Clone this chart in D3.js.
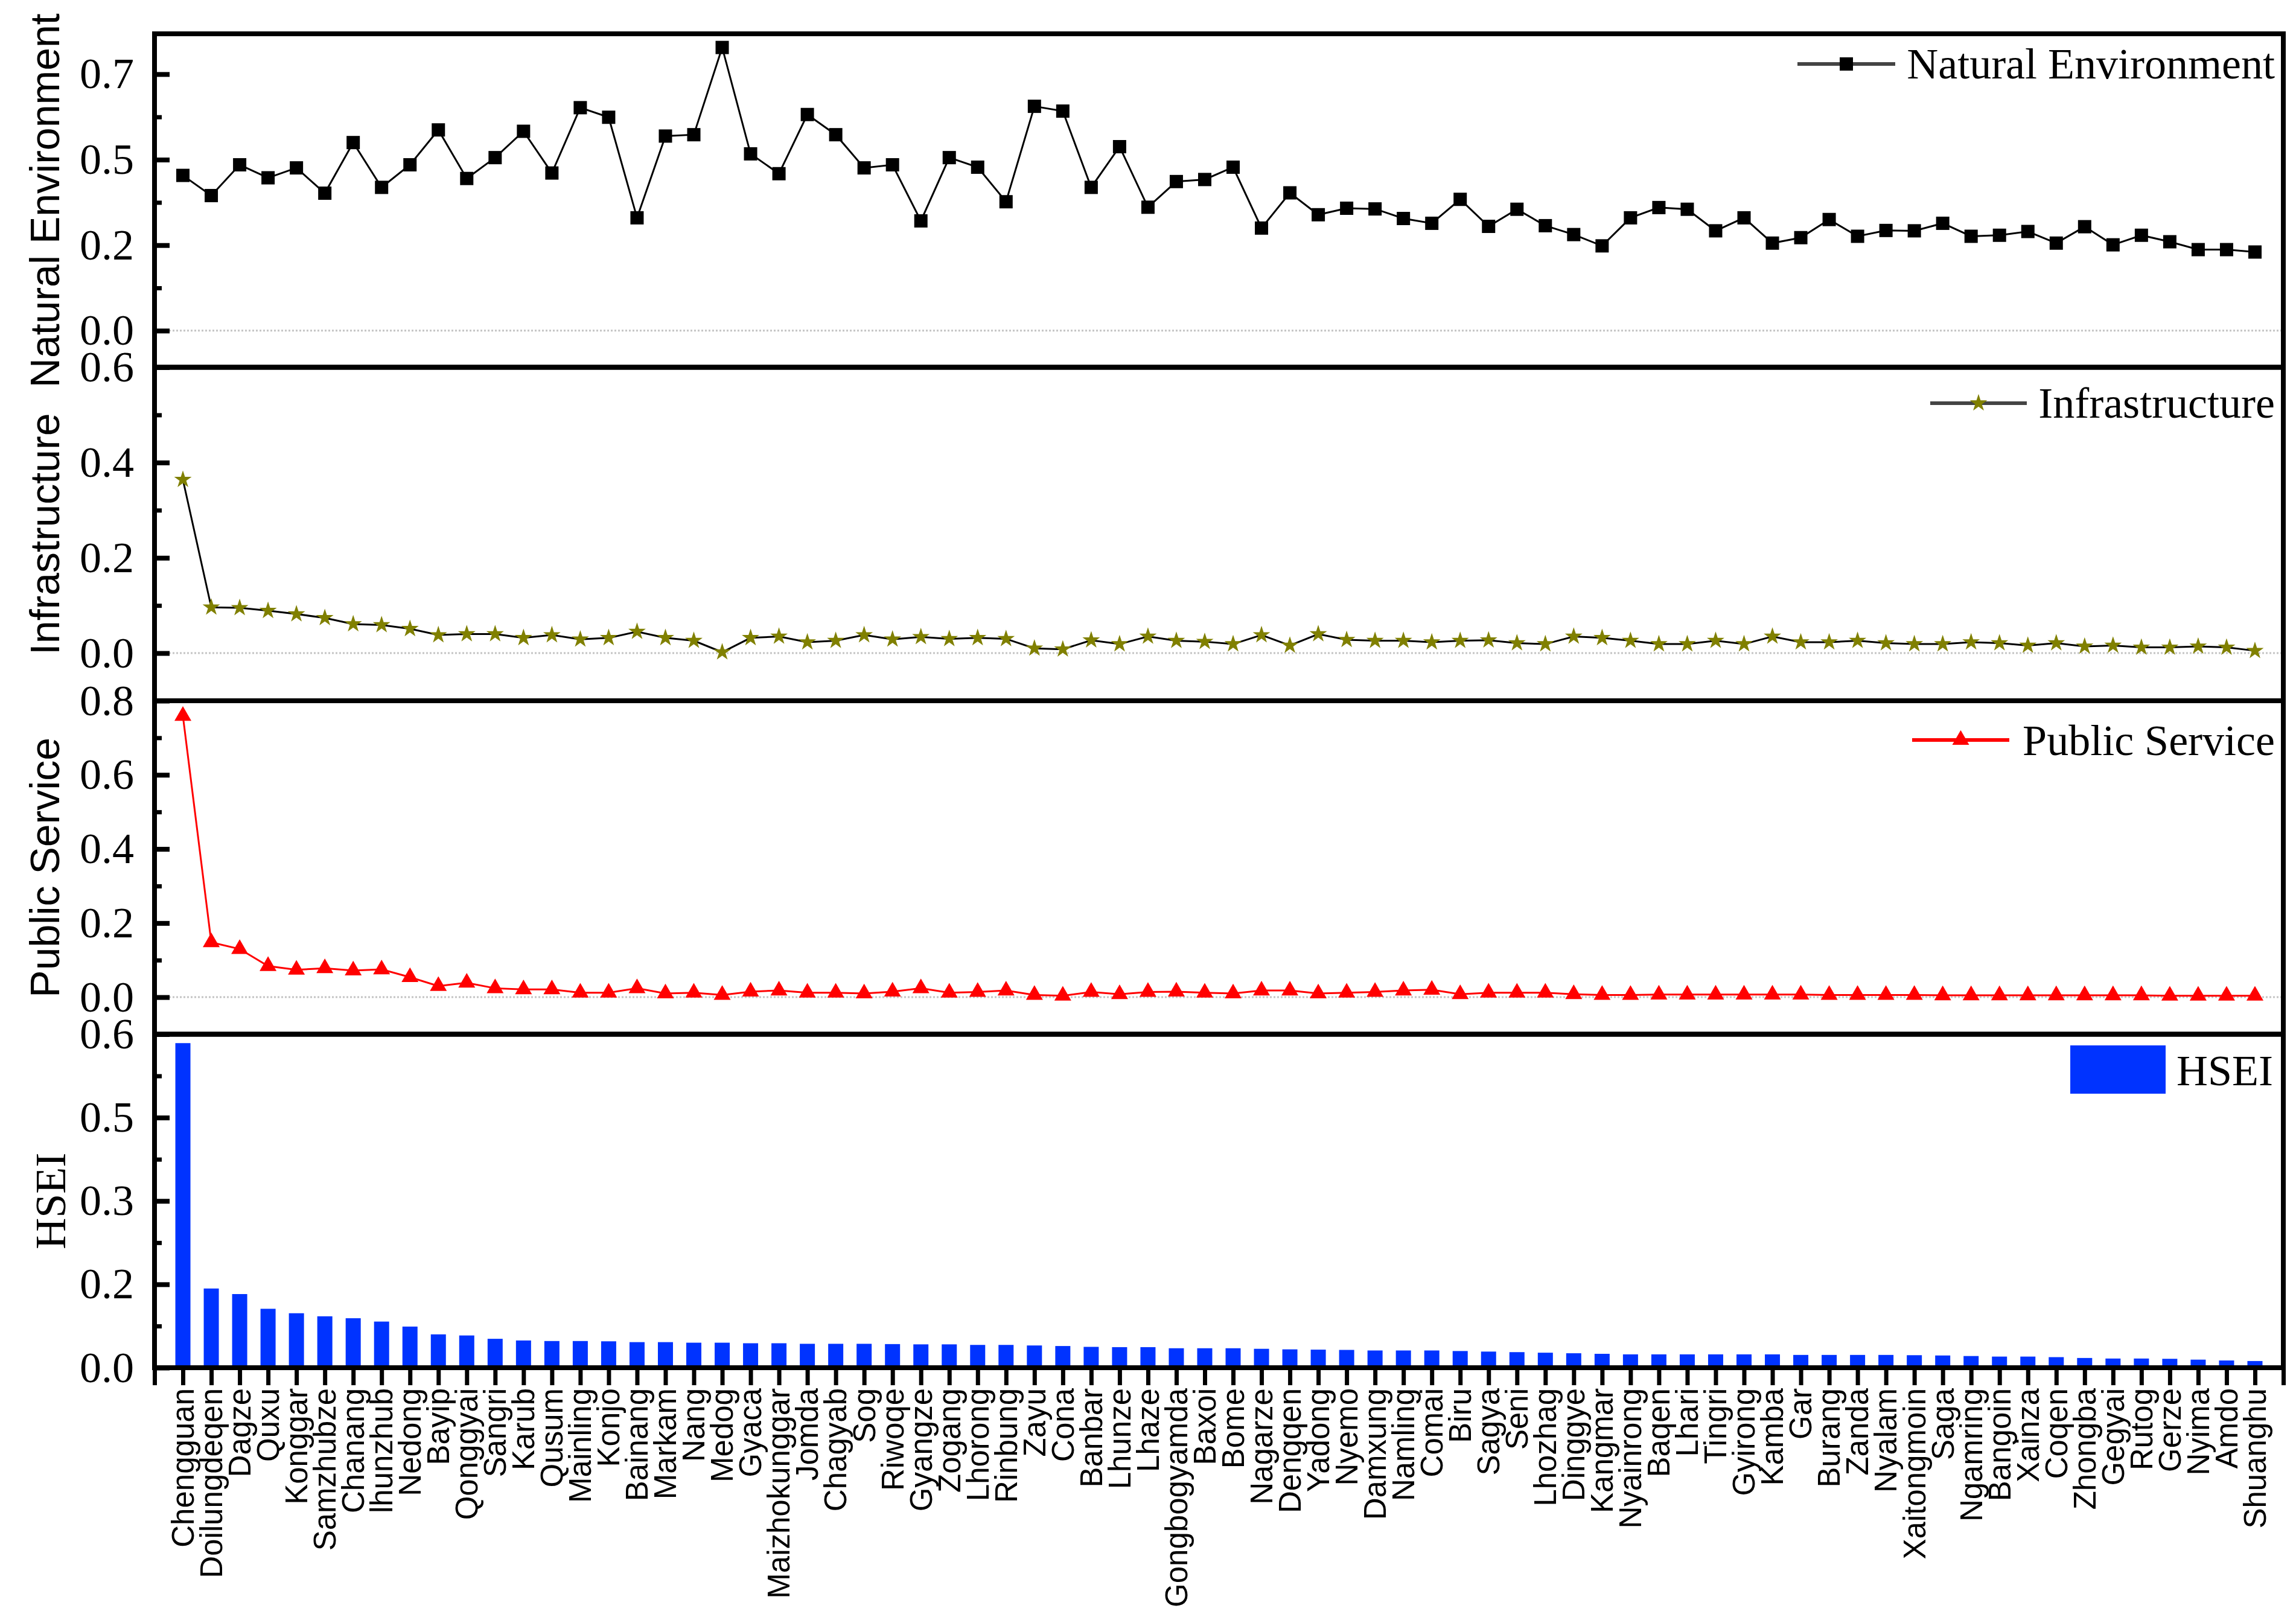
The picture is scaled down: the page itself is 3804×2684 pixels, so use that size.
<!DOCTYPE html>
<html>
<head>
<meta charset="utf-8">
<script src="https://cdn.jsdelivr.net/npm/d3@7"></script>
<style>
body { margin: 0; background: #fff; }
svg { display: block; background: #fff; }
</style>
</head>
<body>
<script>
var counties = ['Chengguan','Doilungdeqen','Dagze','Quxu','Konggar','Samzhubze','Chanang','lhunzhub','Nedong','Bayip',
	'Qonggyai','Sangri','Karub','Qusum','Mainling','Konjo','Bainang','Markam','Nang','Medog',
	'Gyaca','Maizhokunggar','Jomda','Chagyab','Sog','Riwoqe','Gyangze','Zogang','Lhorong','Rinbung',
	'Zayu','Cona','Banbar','Lhunze','Lhaze','Gongbogyamda','Baxoi','Bome','Nagarze','Dengqen',
	'Yadong','Nyemo','Damxung','Namling','Comai','Biru','Sagya','Seni','Lhozhag','Dinggye',
	'Kangmar','Nyainrong','Baqen','Lhari','Tingri','Gyirong','Kamba','Gar','Burang','Zanda',
	'Nyalam','Xaitongmoin','Saga','Ngamring','Bangoin','Xainza','Coqen','Zhongba','Gegyai','Rutog',
	'Gerze','Nyima','Amdo','Shuanghu'];

var naturalEnv = [0.454,0.395,0.485,0.447,0.476,0.402,0.550,0.419,0.485,0.587,
	0.445,0.506,0.583,0.461,0.652,0.624,0.330,0.569,0.573,0.828,
	0.517,0.459,0.632,0.573,0.476,0.485,0.321,0.506,0.478,0.377,
	0.656,0.642,0.419,0.538,0.361,0.436,0.442,0.478,0.300,0.403,
	0.339,0.358,0.356,0.328,0.314,0.384,0.305,0.355,0.307,0.281,
	0.248,0.330,0.360,0.355,0.292,0.330,0.256,0.272,0.325,0.276,
	0.293,0.292,0.314,0.276,0.279,0.290,0.256,0.304,0.251,0.279,
	0.260,0.237,0.237,0.230];

var infrastructure = [0.364,0.096,0.095,0.089,0.082,0.074,0.061,0.059,0.051,0.038,
	0.040,0.040,0.032,0.038,0.029,0.032,0.045,0.032,0.026,0.002,
	0.032,0.035,0.023,0.026,0.038,0.029,0.034,0.030,0.032,0.030,
	0.010,0.008,0.027,0.019,0.035,0.026,0.024,0.019,0.038,0.016,
	0.040,0.028,0.026,0.026,0.023,0.026,0.027,0.021,0.019,0.035,
	0.032,0.026,0.019,0.019,0.026,0.019,0.035,0.023,0.023,0.026,
	0.021,0.019,0.019,0.023,0.021,0.016,0.021,0.014,0.016,0.012,
	0.012,0.014,0.012,0.005];

var publicService = [0.759,0.148,0.130,0.084,0.074,0.078,0.072,0.075,0.054,0.030,
	0.039,0.024,0.021,0.021,0.012,0.012,0.024,0.010,0.012,0.006,
	0.015,0.018,0.012,0.012,0.010,0.015,0.024,0.012,0.014,0.018,
	0.006,0.004,0.014,0.008,0.014,0.015,0.012,0.010,0.018,0.018,
	0.010,0.012,0.014,0.018,0.020,0.008,0.012,0.012,0.012,0.008,
	0.006,0.006,0.007,0.007,0.007,0.007,0.007,0.007,0.006,0.006,
	0.006,0.006,0.005,0.005,0.005,0.005,0.005,0.005,0.005,0.005,
	0.004,0.004,0.004,0.004];

var hsei = [0.584,0.1425,0.1325,0.106,0.098,0.0925,0.089,0.083,0.074,0.060,
	0.058,0.052,0.049,0.048,0.048,0.0475,0.046,0.046,0.045,0.045,
	0.044,0.044,0.043,0.043,0.043,0.0425,0.042,0.042,0.041,0.041,
	0.040,0.039,0.0375,0.037,0.037,0.035,0.035,0.035,0.034,0.033,
	0.0325,0.032,0.031,0.031,0.031,0.030,0.029,0.028,0.027,0.026,
	0.025,0.024,0.024,0.024,0.024,0.024,0.024,0.023,0.023,0.023,
	0.023,0.0225,0.022,0.021,0.020,0.020,0.019,0.0175,0.0165,0.0165,
	0.016,0.0145,0.013,0.012];

// tick values and the labels printed next to them
var neTicks = [0, 0.25, 0.5, 0.75];
var neTickLabels = ['0.0', '0.2', '0.5', '0.7'];
var infTicks = [0, 0.2, 0.4, 0.6];
var infTickLabels = ['0.0', '0.2', '0.4', '0.6'];
var psTicks = [0, 0.2, 0.4, 0.6, 0.8];
var psTickLabels = ['0.0', '0.2', '0.4', '0.6', '0.8'];
var hseiTicks = [0, 0.15, 0.3, 0.45, 0.6];
var hseiTickLabels = ['0.0', '0.2', '0.3', '0.5', '0.6'];

var W = 3804, H = 2684;
var left = 256, right = 3783;
var top0 = 56, bottom = 2266;
var panelH = (bottom - top0) / 4;
var serif = '"Liberation Serif", "Times New Roman", serif';
var sans = '"Liberation Sans", Arial, sans-serif';

var panels = [
	{title: 'Natural Environment', values: naturalEnv, domain: [-0.107, 0.868], ticks: neTicks, labels: neTickLabels,
		symbol: d3.symbolSquare, size: 484, fill: '#000', line: '#000',
		legend: {x1: 2978, x2: 3140, y: 106, textY: 130}},
	{title: 'Infrastructure', values: infrastructure, domain: [-0.1, 0.6], ticks: infTicks, labels: infTickLabels,
		symbol: d3.symbolStar, size: 260, fill: '#808000', line: '#000',
		legend: {x1: 3198, x2: 3358, y: 668, textY: 692}},
	{title: 'Public Service', values: publicService, domain: [-0.1, 0.8], ticks: psTicks, labels: psTickLabels,
		symbol: d3.symbolTriangle, size: 340, fill: '#ff0000', line: '#ff0000',
		legend: {x1: 3168, x2: 3329, y: 1226, textY: 1251}},
	{title: 'HSEI', values: hsei, domain: [0, 0.6], ticks: hseiTicks, labels: hseiTickLabels, bars: true}
];

var svg = d3.select('body')
	.append('svg')
	.attr('width', W)
	.attr('height', H);

var x = d3.scaleLinear()
	.domain([0, 75])
	.range([left, right]);

panels.forEach(function(p, k) {
	var pTop = top0 + k * panelH;
	var pBottom = pTop + panelH;
	var y = d3.scaleLinear()
		.domain(p.domain)
		.range([pBottom, pTop]);

	var g = svg.append('g').classed('panel', true);

	// minor ticks halfway between major ones
	var minor = [];
	for (var i = 0; i < p.ticks.length - 1; i++) {
		minor.push((p.ticks[i] + p.ticks[i + 1]) / 2);
	}

	if (!p.bars) {
		g.append('line')
		.attr('x1', left)
		.attr('x2', right)
		.attr('y1', y(0))
		.attr('y2', y(0))
		.attr('stroke', '#c4c4c4')
		.attr('stroke-width', 3)
		.attr('stroke-dasharray', '3,3');

		var line = d3.line()
			.x(function(d, i) { return x(i + 1); })
			.y(function(d) { return y(d); });

		g.append('path')
		.datum(p.values)
		.attr('d', line)
		.attr('fill', 'none')
		.attr('stroke', p.line)
		.attr('stroke-width', 3);

		var sym = d3.symbol().type(p.symbol).size(p.size);

		g.selectAll('.marker')
		.data(p.values)
		.enter()
		.append('path')
		.classed('marker', true)
		.attr('d', sym)
		.attr('fill', p.fill)
		.attr('transform', function(d, i) {
			return 'translate(' + x(i + 1) + ',' + y(d) + ')';
		});

		// legend
		var lg = p.legend;
		g.append('line')
		.attr('x1', lg.x1)
		.attr('x2', lg.x2)
		.attr('y1', lg.y)
		.attr('y2', lg.y)
		.attr('stroke', p.line === '#000' ? '#444' : p.line)
		.attr('stroke-width', 6);
		g.append('path')
		.attr('d', sym)
		.attr('fill', p.fill)
		.attr('transform', 'translate(' + ((lg.x1 + lg.x2) / 2) + ',' + lg.y + ')');
		g.append('text')
		.attr('x', 3769)
		.attr('y', lg.textY)
		.attr('text-anchor', 'end')
		.attr('font-family', serif)
		.attr('font-size', 72)
		.text(p.title);
	} else {
		g.selectAll('.bar')
		.data(p.values)
		.enter()
		.append('rect')
		.classed('bar', true)
		.attr('x', function(d, i) { return x(i + 1) - 12.5; })
		.attr('width', 25)
		.attr('y', function(d) { return y(d); })
		.attr('height', function(d) { return y(0) - y(d); })
		.attr('fill', '#0033ff');

		g.append('rect')
		.attr('x', 3430)
		.attr('y', 1732)
		.attr('width', 158)
		.attr('height', 80)
		.attr('fill', '#0033ff');
		g.append('text')
		.attr('x', 3766)
		.attr('y', 1798)
		.attr('text-anchor', 'end')
		.attr('font-family', serif)
		.attr('font-size', 72)
		.text(p.title);
	}

	// y axis: ticks pointing inwards, labels on the left
	var yAxis = d3.axisLeft(y)
		.tickValues(p.ticks)
		.tickSize(-25)
		.tickSizeOuter(0)
		.tickPadding(34)
		.tickFormat(function(d, i) { return p.labels[i]; });

	var ya = g.append('g')
	.attr('transform', 'translate(' + left + ',0)')
	.call(yAxis);
	ya.attr('font-family', serif);
	ya.select('.domain').remove();
	ya.selectAll('line').attr('stroke-width', 8).attr('stroke', '#000');
	ya.selectAll('text')
	.attr('font-family', serif)
	.attr('font-size', 72)
	.attr('fill', '#000');

	var ym = g.append('g')
	.attr('transform', 'translate(' + left + ',0)')
	.call(d3.axisLeft(y).tickValues(minor).tickSize(-12).tickSizeOuter(0).tickFormat(''));
	ym.select('.domain').remove();
	ym.selectAll('line').attr('stroke-width', 7).attr('stroke', '#000');

	// frame
	g.append('rect')
	.attr('x', left)
	.attr('y', pTop)
	.attr('width', right - left)
	.attr('height', panelH)
	.attr('fill', 'none')
	.attr('stroke', '#000')
	.attr('stroke-width', 8);

	// axis title
	g.append('text')
	.attr('transform', 'translate(' + (p.bars ? 108 : 98) + ',' + (pTop + panelH / 2) + ') rotate(-90)')
	.attr('text-anchor', 'middle')
	.attr('font-family', p.bars ? serif : sans)
	.attr('font-size', p.bars ? 72 : 68)
	.text(p.title);
});

// x axis ticks under the bottom panel
var xa = svg.append('g')
	.attr('transform', 'translate(0,' + (bottom + 4) + ')')
	.call(d3.axisBottom(x).tickValues(d3.range(0, 76)).tickSize(25).tickSizeOuter(0).tickFormat(''));
xa.select('.domain').remove();
xa.selectAll('line').attr('stroke-width', 7).attr('stroke', '#000');

svg.append('g')
	.selectAll('text')
	.data(counties)
	.enter()
	.append('text')
	.attr('transform', function(d, i) {
		return 'translate(' + x(i + 1) + ',2300) rotate(-90)';
	})
	.attr('dy', '0.35em')
	.attr('text-anchor', 'end')
	.attr('font-family', sans)
	.attr('font-size', 51)
	.text(function(d) { return d; });
</script>
</body>
</html>
